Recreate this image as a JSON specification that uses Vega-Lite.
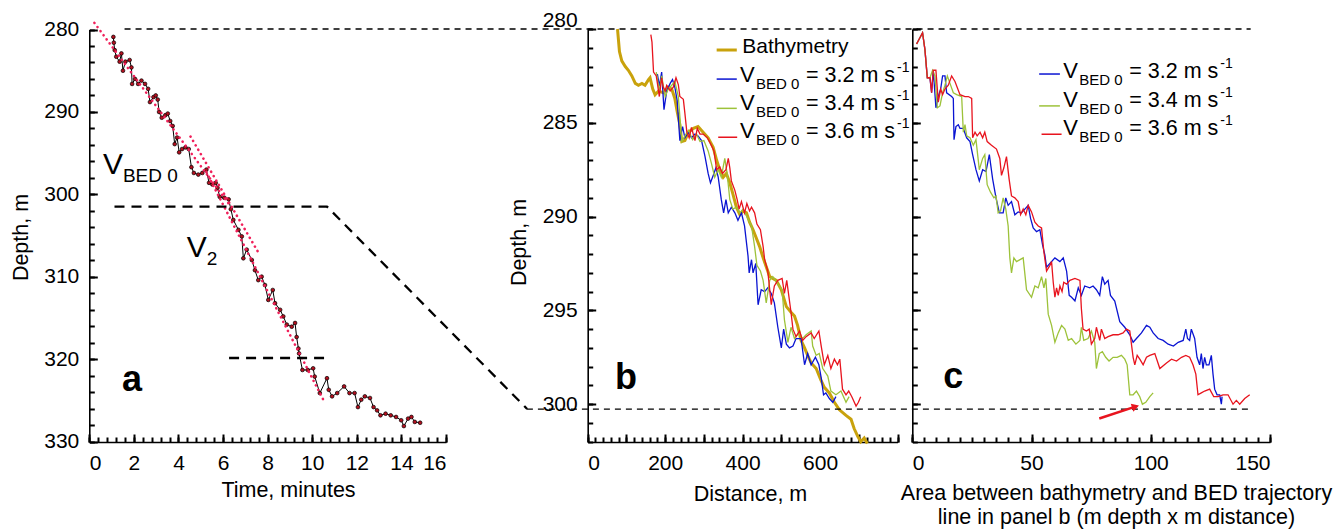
{
"$schema":"https://vega.github.io/schema/vega-lite/v6.json",
"width":1342,"height":442,
"autosize":{"type":"none"},
"padding":{"left":0,"top":0,"right":0,"bottom":87},
"config":{"font":"Liberation Sans","view":{"stroke":null},
 "axis":{"labelFont":"Liberation Sans","titleFont":"Liberation Sans","labelFontSize":21,"titleFontSize":21.5,"titleFontWeight":"normal","labelColor":"black","titleColor":"black","domainColor":"black","tickColor":"black","grid":false,"domainWidth":1.6,"tickWidth":2,"ticks":true,"tickOpacity":1,"zindex":1}},
"resolve":{"scale":{"x":"independent","y":"independent"},"axis":{"x":"independent","y":"independent"}},
"layer":[
{"data":{"values":[
{"t":1.08,"depth":280.9},{"t":1.10,"depth":281.6},{"t":1.14,"depth":282.5},{"t":1.21,"depth":283.3},{"t":1.36,"depth":283.9},{"t":1.44,"depth":282.9},{"t":1.51,"depth":285.0},{"t":1.62,"depth":283.9},{"t":1.81,"depth":283.7},{"t":1.89,"depth":284.6},{"t":1.92,"depth":286.6},{"t":2.05,"depth":286.0},{"t":2.19,"depth":286.6},{"t":2.34,"depth":286.2},{"t":2.50,"depth":286.6},{"t":2.64,"depth":287.2},{"t":2.72,"depth":288.8},{"t":2.88,"depth":288.2},{"t":2.98,"depth":288.0},{"t":3.07,"depth":288.5},{"t":3.13,"depth":290.0},{"t":3.25,"depth":290.7},{"t":3.41,"depth":290.4},{"t":3.52,"depth":290.2},{"t":3.63,"depth":291.1},{"t":3.74,"depth":291.7},{"t":3.83,"depth":293.9},{"t":3.94,"depth":293.1},{"t":4.03,"depth":294.9},{"t":4.16,"depth":294.5},{"t":4.31,"depth":294.3},{"t":4.46,"depth":294.5},{"t":4.58,"depth":296.7},{"t":4.69,"depth":297.4},{"t":4.89,"depth":297.6},{"t":5.07,"depth":297.4},{"t":5.25,"depth":297.0},{"t":5.37,"depth":298.6},{"t":5.52,"depth":298.8},{"t":5.67,"depth":298.6},{"t":5.75,"depth":299.2},{"t":5.85,"depth":300.3},{"t":6.05,"depth":300.4},{"t":6.25,"depth":300.6},{"t":6.35,"depth":301.8},{"t":6.46,"depth":303.1},{"t":6.69,"depth":304.3},{"t":6.84,"depth":305.1},{"t":6.91,"depth":307.75},{"t":7.06,"depth":306.7},{"t":7.29,"depth":307.96},{"t":7.43,"depth":309.2},{"t":7.58,"depth":310.4},{"t":7.73,"depth":309.98},{"t":7.88,"depth":311.0},{"t":8.03,"depth":312.8},{"t":8.23,"depth":311.6},{"t":8.33,"depth":313.2},{"t":8.56,"depth":314.0},{"t":8.70,"depth":314.8},{"t":8.86,"depth":315.8},{"t":9.08,"depth":316.05},{"t":9.23,"depth":315.6},{"t":9.30,"depth":317.3},{"t":9.38,"depth":318.7},{"t":9.41,"depth":319.3},{"t":9.56,"depth":321.3},{"t":9.80,"depth":321.3},{"t":10.04,"depth":321.1},{"t":10.11,"depth":322.1},{"t":10.34,"depth":324.1},{"t":10.66,"depth":322.3},{"t":10.74,"depth":323.7},{"t":10.89,"depth":324.5},{"t":11.12,"depth":324.1},{"t":11.43,"depth":323.3},{"t":11.67,"depth":324.1},{"t":11.90,"depth":324.1},{"t":12.05,"depth":325.8},{"t":12.20,"depth":324.9},{"t":12.36,"depth":324.5},{"t":12.59,"depth":324.7},{"t":12.75,"depth":325.8},{"t":12.91,"depth":326.2},{"t":13.06,"depth":326.8},{"t":13.29,"depth":326.6},{"t":13.52,"depth":326.8},{"t":13.76,"depth":327.0},{"t":13.99,"depth":327.4},{"t":14.11,"depth":328.1},{"t":14.30,"depth":327.2},{"t":14.45,"depth":327.0},{"t":14.60,"depth":327.6},{"t":14.84,"depth":327.7}]},
 "mark":{"type":"line","color":"black","strokeWidth":1,"point":{"filled":true,"fill":"#b3101f","stroke":"black","strokeWidth":0.7,"size":14}},
 "encoding":{
  "x":{"field":"t","type":"quantitative","scale":{"domain":[0,16],"range":[89.3,446],"nice":false,"zero":false},
   "axis":{"orient":"bottom","values":[0,2,4,6,8,10,12,14,16],"ticks":true,"tickSize":-8,"tickWidth":2,"tickColor":"black","labelPadding":18.5,"title":"Time, minutes","titleX":288,"titleY":54,"titleBaseline":"alphabetic"}},
  "y":{"field":"depth","type":"quantitative","scale":{"domain":[280,330],"range":[29.5,441.7],"nice":false,"zero":false},
   "axis":{"orient":"left","offset":-89.3,"values":[280,290,300,310,320,330],"ticks":true,"tickSize":-8,"tickWidth":2,"tickColor":"black","labelPadding":18.5,"title":"Depth, m","titleX":-61.5,"titleY":237,"titleAngle":-90,"titleBaseline":"alphabetic"}}}},
{"data":{"values":[{"fit":"A","t":0.23,"depth":279.2},{"fit":"A","t":6.3,"depth":301.3},{"fit":"B","t":4.54,"depth":292.98},{"fit":"B","t":7.65,"depth":307.35},{"fit":"C","t":5.25,"depth":297.3},{"fit":"C","t":10.58,"depth":325.35}]},
 "mark":{"type":"line","color":"#f0205a","strokeWidth":2.6,"strokeDash":[0.1,5],"strokeCap":"round"},
 "encoding":{"detail":{"field":"fit"},
  "x":{"field":"t","type":"quantitative","scale":{"domain":[0,16],"range":[89.3,446],"nice":false,"zero":false},
   "axis":{"orient":"bottom","offset":-5,"values":[0,0.4,0.8,1.2,1.6,2,2.4,2.8,3.2,3.6,4,4.4,4.8,5.2,5.6,6,6.4,6.8,7.2,7.6,8,8.4,8.8,9.2,9.6,10,10.4,10.8,11.2,11.6,12,12.4,12.8,13.2,13.6,14,14.4,14.8,15.2,15.6,16],"labels":false,"domain":false,"ticks":true,"tickSize":5,"tickWidth":2,"tickColor":"black","title":null}},
  "y":{"field":"depth","type":"quantitative","scale":{"domain":[280,330],"range":[29.5,441.7],"nice":false,"zero":false},
   "axis":{"orient":"left","offset":-94.3,"values":[280,282,284,286,288,290,292,294,296,298,300,302,304,306,308,310,312,314,316,318,320,322,324,326,328,330],"labels":false,"domain":false,"ticks":true,"tickSize":5,"tickWidth":2,"tickColor":"black","title":null}}}},
{"data":{"values":[{"seg":"mid","t":1.13,"depth":301.48},{"seg":"mid","t":10.66,"depth":301.48},{"seg":"mid","t":19.64,"depth":326.03},{"seg":"low","t":6.27,"depth":319.85},{"seg":"low","t":10.53,"depth":319.85}]},
 "mark":{"type":"line","color":"black","strokeWidth":2.3,"strokeDash":[10,7]},
 "encoding":{"detail":{"field":"seg"},
  "x":{"field":"t","type":"quantitative","scale":{"domain":[0,16],"range":[89.3,446],"nice":false,"zero":false},"axis":null},
  "y":{"field":"depth","type":"quantitative","scale":{"domain":[280,330],"range":[29.5,441.7],"nice":false,"zero":false},"axis":null}}},
{"data":{"values":[{"label":"V","t":0.61,"depth":297.48},{"label":"V","t":4.37,"depth":307.63}]},
 "mark":{"type":"text","align":"left","baseline":"alphabetic","fontSize":30,"color":"black"},
 "encoding":{"text":{"field":"label"},
  "x":{"field":"t","type":"quantitative","scale":{"domain":[0,16],"range":[89.3,446],"nice":false,"zero":false},"axis":null},
  "y":{"field":"depth","type":"quantitative","scale":{"domain":[280,330],"range":[29.5,441.7],"nice":false,"zero":false},"axis":null}}},
{"data":{"values":[{"label":"BED 0","t":0.61,"depth":297.48},{"label":"2","t":4.37,"depth":307.63}]},
 "mark":{"type":"text","align":"left","baseline":"alphabetic","fontSize":19,"dx":20,"dy":8,"color":"black"},
 "encoding":{"text":{"field":"label"},
  "x":{"field":"t","type":"quantitative","scale":{"domain":[0,16],"range":[89.3,446],"nice":false,"zero":false},"axis":null},
  "y":{"field":"depth","type":"quantitative","scale":{"domain":[280,330],"range":[29.5,441.7],"nice":false,"zero":false},"axis":null}}},
{"data":{"values":[{"label":"a","t":1.47,"depth":323.9}]},
 "mark":{"type":"text","align":"left","baseline":"alphabetic","fontSize":36,"fontWeight":"bold","color":"black"},
 "encoding":{"text":{"field":"label"},
  "x":{"field":"t","type":"quantitative","scale":{"domain":[0,16],"range":[89.3,446],"nice":false,"zero":false},"axis":null},
  "y":{"field":"depth","type":"quantitative","scale":{"domain":[280,330],"range":[29.5,441.7],"nice":false,"zero":false},"axis":null}}},
{"data":{"values":[
{"dist":77,"depth":280.0},{"dist":82,"depth":281.2},{"dist":88,"depth":281.7},{"dist":97,"depth":282.0},{"dist":105,"depth":282.2},{"dist":114,"depth":282.5},{"dist":123,"depth":282.9},{"dist":131,"depth":283.0},{"dist":140,"depth":282.9},{"dist":148,"depth":283.0},{"dist":157,"depth":282.7},{"dist":161,"depth":282.6},{"dist":168,"depth":283.2},{"dist":174,"depth":283.5},{"dist":183,"depth":283.3},{"dist":195,"depth":283.4},{"dist":208,"depth":283.1},{"dist":217,"depth":283.2},{"dist":225,"depth":283.7},{"dist":231,"depth":284.4},{"dist":238,"depth":285.1},{"dist":243,"depth":286.0},{"dist":251,"depth":285.95},{"dist":260,"depth":285.5},{"dist":273,"depth":285.3},{"dist":285,"depth":285.2},{"dist":298,"depth":285.5},{"dist":311,"depth":285.8},{"dist":324,"depth":286.3},{"dist":333,"depth":287.0},{"dist":341,"depth":287.5},{"dist":350,"depth":287.9},{"dist":358,"depth":287.7},{"dist":367,"depth":288.2},{"dist":375,"depth":288.8},{"dist":384,"depth":289.5},{"dist":393,"depth":289.9},{"dist":401,"depth":289.7},{"dist":410,"depth":289.8},{"dist":418,"depth":290.3},{"dist":427,"depth":290.7},{"dist":444,"depth":291.6},{"dist":453,"depth":292.2},{"dist":470,"depth":293.2},{"dist":487,"depth":293.4},{"dist":500,"depth":293.9},{"dist":513,"depth":294.8},{"dist":525,"depth":295.1},{"dist":534,"depth":295.3},{"dist":542,"depth":295.8},{"dist":551,"depth":296.6},{"dist":560,"depth":297.0},{"dist":568,"depth":297.4},{"dist":577,"depth":297.8},{"dist":590,"depth":298.1},{"dist":602,"depth":298.7},{"dist":611,"depth":299.1},{"dist":624,"depth":299.4},{"dist":637,"depth":299.9},{"dist":650,"depth":300.3},{"dist":667,"depth":300.6},{"dist":680,"depth":300.8},{"dist":688,"depth":301.3},{"dist":697,"depth":301.7},{"dist":705,"depth":302.0},{"dist":714,"depth":301.8},{"dist":722,"depth":302.1}]},
 "mark":{"type":"line","color":"#c9a20c","strokeWidth":3},
 "encoding":{
  "x":{"field":"dist","type":"quantitative","scale":{"domain":[0,800],"range":[587.7,897.5],"nice":false,"zero":false},
   "axis":{"orient":"bottom","values":[0,100,200,300,400,500,600,700,800],"labelExpr":"datum.value % 200 == 0 && datum.value < 800 ? datum.label : ''","ticks":true,"tickSize":-8,"tickWidth":2,"tickColor":"black","labelPadding":18.5,"title":"Distance, m","titleX":750,"titleY":58.5,"titleBaseline":"alphabetic"}},
  "y":{"field":"depth","type":"quantitative","scale":{"domain":[280,302],"range":[29,441.7],"nice":false,"zero":false},
   "axis":{"orient":"left","offset":-587.7,"values":[280,285,290,295,300],"ticks":true,"tickSize":-8,"tickWidth":2,"tickColor":"black","labelPadding":18.5,"labelFlush":true,"labelFlushOffset":20,"title":"Depth, m","titleX":-62,"titleY":242,"titleAngle":-90,"titleBaseline":"alphabetic"}}}},
{"data":{"values":[
{"series":"3.2","dist":180,"depth":282.4},{"series":"3.2","dist":185,"depth":283.05},{"series":"3.2","dist":191,"depth":282.3},{"series":"3.2","dist":197,"depth":284.3},{"series":"3.2","dist":204,"depth":283.3},{"series":"3.2","dist":213,"depth":282.9},{"series":"3.2","dist":219,"depth":282.7},{"series":"3.2","dist":225,"depth":283.1},{"series":"3.2","dist":231,"depth":283.8},{"series":"3.2","dist":238,"depth":285.95},{"series":"3.2","dist":245,"depth":285.2},{"series":"3.2","dist":251,"depth":285.8},{"series":"3.2","dist":260,"depth":285.5},{"series":"3.2","dist":268,"depth":285.8},{"series":"3.2","dist":277,"depth":285.6},{"series":"3.2","dist":285,"depth":285.7},{"series":"3.2","dist":294,"depth":285.95},{"series":"3.2","dist":303,"depth":286.8},{"series":"3.2","dist":311,"depth":287.7},{"series":"3.2","dist":317,"depth":288.2},{"series":"3.2","dist":326,"depth":287.7},{"series":"3.2","dist":331,"depth":287.4},{"series":"3.2","dist":337,"depth":287.9},{"series":"3.2","dist":345,"depth":289.1},{"series":"3.2","dist":351,"depth":289.8},{"series":"3.2","dist":357,"depth":289.1},{"series":"3.2","dist":363,"depth":289.8},{"series":"3.2","dist":371,"depth":289.5},{"series":"3.2","dist":380,"depth":289.8},{"series":"3.2","dist":388,"depth":290.2},{"series":"3.2","dist":397,"depth":289.8},{"series":"3.2","dist":405,"depth":290.5},{"series":"3.2","dist":414,"depth":292.1},{"series":"3.2","dist":417,"depth":293.0},{"series":"3.2","dist":423,"depth":292.3},{"series":"3.2","dist":427,"depth":293.0},{"series":"3.2","dist":434,"depth":292.5},{"series":"3.2","dist":440,"depth":294.7},{"series":"3.2","dist":448,"depth":293.9},{"series":"3.2","dist":457,"depth":294.0},{"series":"3.2","dist":465,"depth":293.8},{"series":"3.2","dist":474,"depth":294.1},{"series":"3.2","dist":482,"depth":294.6},{"series":"3.2","dist":491,"depth":295.9},{"series":"3.2","dist":500,"depth":297.0},{"series":"3.2","dist":506,"depth":296.0},{"series":"3.2","dist":513,"depth":296.8},{"series":"3.2","dist":521,"depth":297.0},{"series":"3.2","dist":530,"depth":296.9},{"series":"3.2","dist":538,"depth":296.5},{"series":"3.2","dist":551,"depth":296.5},{"series":"3.2","dist":560,"depth":297.9},{"series":"3.2","dist":568,"depth":297.3},{"series":"3.2","dist":577,"depth":297.9},{"series":"3.2","dist":588,"depth":297.5},{"series":"3.2","dist":597,"depth":297.9},{"series":"3.2","dist":603,"depth":298.6},{"series":"3.2","dist":609,"depth":299.5},{"series":"3.2","dist":615,"depth":299.4},{"series":"3.2","dist":624,"depth":299.7},{"series":"3.2","dist":633,"depth":299.9},{"series":"3.2","dist":641,"depth":299.6},
{"series":"3.4","dist":177,"depth":282.3},{"series":"3.4","dist":185,"depth":283.3},{"series":"3.4","dist":191,"depth":282.5},{"series":"3.4","dist":200,"depth":283.6},{"series":"3.4","dist":208,"depth":283.2},{"series":"3.4","dist":217,"depth":283.0},{"series":"3.4","dist":225,"depth":282.8},{"series":"3.4","dist":234,"depth":283.6},{"series":"3.4","dist":243,"depth":286.0},{"series":"3.4","dist":251,"depth":285.7},{"series":"3.4","dist":260,"depth":285.4},{"series":"3.4","dist":271,"depth":285.9},{"series":"3.4","dist":281,"depth":285.6},{"series":"3.4","dist":290,"depth":286.0},{"series":"3.4","dist":300,"depth":285.95},{"series":"3.4","dist":311,"depth":286.5},{"series":"3.4","dist":320,"depth":287.2},{"series":"3.4","dist":328,"depth":287.9},{"series":"3.4","dist":337,"depth":287.5},{"series":"3.4","dist":345,"depth":287.9},{"series":"3.4","dist":354,"depth":286.9},{"series":"3.4","dist":360,"depth":287.7},{"series":"3.4","dist":367,"depth":289.1},{"series":"3.4","dist":375,"depth":289.6},{"series":"3.4","dist":384,"depth":289.5},{"series":"3.4","dist":393,"depth":289.8},{"series":"3.4","dist":401,"depth":289.6},{"series":"3.4","dist":411,"depth":290.0},{"series":"3.4","dist":423,"depth":290.5},{"series":"3.4","dist":431,"depth":291.6},{"series":"3.4","dist":437,"depth":292.6},{"series":"3.4","dist":446,"depth":292.9},{"series":"3.4","dist":453,"depth":293.4},{"series":"3.4","dist":461,"depth":294.6},{"series":"3.4","dist":470,"depth":293.4},{"series":"3.4","dist":478,"depth":293.2},{"series":"3.4","dist":491,"depth":293.6},{"series":"3.4","dist":502,"depth":293.9},{"series":"3.4","dist":508,"depth":295.5},{"series":"3.4","dist":517,"depth":296.7},{"series":"3.4","dist":525,"depth":295.9},{"series":"3.4","dist":534,"depth":296.5},{"series":"3.4","dist":545,"depth":296.2},{"series":"3.4","dist":555,"depth":296.5},{"series":"3.4","dist":564,"depth":296.3},{"series":"3.4","dist":577,"depth":296.1},{"series":"3.4","dist":581,"depth":296.9},{"series":"3.4","dist":590,"depth":297.4},{"series":"3.4","dist":598,"depth":297.3},{"series":"3.4","dist":607,"depth":298.1},{"series":"3.4","dist":620,"depth":298.5},{"series":"3.4","dist":628,"depth":299.3},{"series":"3.4","dist":641,"depth":299.5},{"series":"3.4","dist":654,"depth":299.3},{"series":"3.4","dist":667,"depth":299.9},{"series":"3.4","dist":675,"depth":299.6},
{"series":"3.6","dist":163,"depth":280.3},{"series":"3.6","dist":166,"depth":280.7},{"series":"3.6","dist":170,"depth":282.3},{"series":"3.6","dist":177,"depth":282.5},{"series":"3.6","dist":180,"depth":282.9},{"series":"3.6","dist":185,"depth":283.6},{"series":"3.6","dist":191,"depth":282.6},{"series":"3.6","dist":195,"depth":283.1},{"series":"3.6","dist":200,"depth":283.3},{"series":"3.6","dist":204,"depth":283.0},{"series":"3.6","dist":213,"depth":283.3},{"series":"3.6","dist":221,"depth":283.1},{"series":"3.6","dist":228,"depth":282.6},{"series":"3.6","dist":234,"depth":282.96},{"series":"3.6","dist":238,"depth":283.6},{"series":"3.6","dist":247,"depth":283.75},{"series":"3.6","dist":251,"depth":284.5},{"series":"3.6","dist":256,"depth":285.5},{"series":"3.6","dist":262,"depth":285.8},{"series":"3.6","dist":268,"depth":285.25},{"series":"3.6","dist":277,"depth":285.95},{"series":"3.6","dist":283,"depth":285.3},{"series":"3.6","dist":290,"depth":285.6},{"series":"3.6","dist":298,"depth":285.6},{"series":"3.6","dist":309,"depth":285.8},{"series":"3.6","dist":317,"depth":286.1},{"series":"3.6","dist":326,"depth":286.5},{"series":"3.6","dist":333,"depth":287.5},{"series":"3.6","dist":341,"depth":287.35},{"series":"3.6","dist":348,"depth":287.7},{"series":"3.6","dist":357,"depth":287.5},{"series":"3.6","dist":363,"depth":286.9},{"series":"3.6","dist":367,"depth":287.4},{"series":"3.6","dist":371,"depth":288.1},{"series":"3.6","dist":380,"depth":288.6},{"series":"3.6","dist":386,"depth":289.1},{"series":"3.6","dist":391,"depth":289.6},{"series":"3.6","dist":397,"depth":289.2},{"series":"3.6","dist":405,"depth":289.8},{"series":"3.6","dist":411,"depth":289.3},{"series":"3.6","dist":418,"depth":289.7},{"series":"3.6","dist":423,"depth":289.5},{"series":"3.6","dist":431,"depth":289.8},{"series":"3.6","dist":437,"depth":290.4},{"series":"3.6","dist":446,"depth":290.7},{"series":"3.6","dist":453,"depth":291.6},{"series":"3.6","dist":457,"depth":292.3},{"series":"3.6","dist":465,"depth":292.9},{"series":"3.6","dist":474,"depth":294.7},{"series":"3.6","dist":482,"depth":293.7},{"series":"3.6","dist":491,"depth":293.4},{"series":"3.6","dist":502,"depth":293.3},{"series":"3.6","dist":508,"depth":294.1},{"series":"3.6","dist":514,"depth":293.4},{"series":"3.6","dist":525,"depth":295.1},{"series":"3.6","dist":530,"depth":296.0},{"series":"3.6","dist":538,"depth":296.4},{"series":"3.6","dist":547,"depth":296.1},{"series":"3.6","dist":555,"depth":296.6},{"series":"3.6","dist":564,"depth":296.4},{"series":"3.6","dist":577,"depth":296.2},{"series":"3.6","dist":585,"depth":296.5},{"series":"3.6","dist":597,"depth":296.1},{"series":"3.6","dist":603,"depth":296.9},{"series":"3.6","dist":611,"depth":297.9},{"series":"3.6","dist":620,"depth":297.4},{"series":"3.6","dist":628,"depth":298.1},{"series":"3.6","dist":637,"depth":297.6},{"series":"3.6","dist":645,"depth":297.9},{"series":"3.6","dist":651,"depth":297.6},{"series":"3.6","dist":658,"depth":299.2},{"series":"3.6","dist":667,"depth":299.5},{"series":"3.6","dist":674,"depth":299.3},{"series":"3.6","dist":682,"depth":299.6},{"series":"3.6","dist":693,"depth":300.1},{"series":"3.6","dist":699,"depth":299.9},{"series":"3.6","dist":705,"depth":299.6}]},
 "mark":{"type":"line","strokeWidth":1.3},
 "encoding":{
  "color":{"field":"series","type":"nominal","scale":{"domain":["3.2","3.4","3.6"],"range":["#0a14d2","#9dc23a","#e8141e"]},"legend":null},
  "x":{"field":"dist","type":"quantitative","scale":{"domain":[0,800],"range":[587.7,897.5],"nice":false,"zero":false},
   "axis":{"orient":"bottom","offset":-5,"values":[0,20,40,60,80,100,120,140,160,180,200,220,240,260,280,300,320,340,360,380,400,420,440,460,480,500,520,540,560,580,600,620,640,660,680,700,720,740,760,780,800],"labels":false,"domain":false,"ticks":true,"tickSize":5,"tickWidth":2,"tickColor":"black","title":null}},
  "y":{"field":"depth","type":"quantitative","scale":{"domain":[280,302],"range":[29,441.7],"nice":false,"zero":false},
   "axis":{"orient":"left","offset":-592.7,"values":[280,281,282,283,284,285,286,287,288,289,290,291,292,293,294,295,296,297,298,299,300,301,302],"labels":false,"domain":false,"ticks":true,"tickSize":5,"tickWidth":2,"tickColor":"black","title":null}}}},
{"data":{"values":[{"series":"3.2","from":333,"to":385,"depth":282.67},{"series":"3.4","from":333,"to":385,"depth":284.23},{"series":"3.6","from":337,"to":386,"depth":285.77}]},
 "mark":{"type":"rule","strokeWidth":1.5},
 "encoding":{
  "color":{"field":"series","type":"nominal","scale":{"domain":["3.2","3.4","3.6"],"range":["#0a14d2","#9dc23a","#e8141e"]},"legend":null},
  "x":{"field":"from","type":"quantitative","scale":{"domain":[0,800],"range":[587.7,897.5],"nice":false,"zero":false},"axis":null},
  "x2":{"field":"to"},
  "y":{"field":"depth","type":"quantitative","scale":{"domain":[280,302],"range":[29,441.7],"nice":false,"zero":false},"axis":null}}},
{"data":{"values":[{"from":333,"to":385,"depth":281.12}]},
 "mark":{"type":"rule","strokeWidth":3,"color":"#c9a20c"},
 "encoding":{
  "x":{"field":"from","type":"quantitative","scale":{"domain":[0,800],"range":[587.7,897.5],"nice":false,"zero":false},"axis":null},
  "x2":{"field":"to"},
  "y":{"field":"depth","type":"quantitative","scale":{"domain":[280,302],"range":[29,441.7],"nice":false,"zero":false},"axis":null}}},
{"data":{"values":[{"label":"Bathymetry","dist":399.3,"depth":281.3}]},
 "mark":{"type":"text","align":"left","baseline":"alphabetic","fontSize":21,"color":"black"},
 "encoding":{"text":{"field":"label"},
  "x":{"field":"dist","type":"quantitative","scale":{"domain":[0,800],"range":[587.7,897.5],"nice":false,"zero":false},"axis":null},
  "y":{"field":"depth","type":"quantitative","scale":{"domain":[280,302],"range":[29,441.7],"nice":false,"zero":false},"axis":null}}},
{"data":{"values":[{"label":"V","dist":393.3,"depth":282.81},{"label":"V","dist":393.3,"depth":284.32},{"label":"V","dist":393.3,"depth":285.83}]},
 "mark":{"type":"text","align":"left","baseline":"alphabetic","fontSize":22,"color":"black"},
 "encoding":{"text":{"field":"label"},
  "x":{"field":"dist","type":"quantitative","scale":{"domain":[0,800],"range":[587.7,897.5],"nice":false,"zero":false},"axis":null},
  "y":{"field":"depth","type":"quantitative","scale":{"domain":[280,302],"range":[29,441.7],"nice":false,"zero":false},"axis":null}}},
{"data":{"values":[{"label":"BED 0","dist":393.3,"depth":282.81},{"label":"BED 0","dist":393.3,"depth":284.32},{"label":"BED 0","dist":393.3,"depth":285.83}]},
 "mark":{"type":"text","align":"left","baseline":"alphabetic","fontSize":15,"dx":16,"dy":7,"color":"black"},
 "encoding":{"text":{"field":"label"},
  "x":{"field":"dist","type":"quantitative","scale":{"domain":[0,800],"range":[587.7,897.5],"nice":false,"zero":false},"axis":null},
  "y":{"field":"depth","type":"quantitative","scale":{"domain":[280,302],"range":[29,441.7],"nice":false,"zero":false},"axis":null}}},
{"data":{"values":[{"label":"= 3.2 m s","dist":393.3,"depth":282.81},{"label":"= 3.4 m s","dist":393.3,"depth":284.32},{"label":"= 3.6 m s","dist":393.3,"depth":285.83}]},
 "mark":{"type":"text","align":"left","baseline":"alphabetic","fontSize":21.5,"dx":66,"color":"black"},
 "encoding":{"text":{"field":"label"},
  "x":{"field":"dist","type":"quantitative","scale":{"domain":[0,800],"range":[587.7,897.5],"nice":false,"zero":false},"axis":null},
  "y":{"field":"depth","type":"quantitative","scale":{"domain":[280,302],"range":[29,441.7],"nice":false,"zero":false},"axis":null}}},
{"data":{"values":[{"label":"-1","dist":393.3,"depth":282.81},{"label":"-1","dist":393.3,"depth":284.32},{"label":"-1","dist":393.3,"depth":285.83}]},
 "mark":{"type":"text","align":"left","baseline":"alphabetic","fontSize":14,"dx":157,"dy":-10,"color":"black"},
 "encoding":{"text":{"field":"label"},
  "x":{"field":"dist","type":"quantitative","scale":{"domain":[0,800],"range":[587.7,897.5],"nice":false,"zero":false},"axis":null},
  "y":{"field":"depth","type":"quantitative","scale":{"domain":[280,302],"range":[29,441.7],"nice":false,"zero":false},"axis":null}}},
{"data":{"values":[{"seg":"top","dist":-1196,"depth":280},{"seg":"top","dist":1712,"depth":280},{"seg":"bottom","dist":-157,"depth":300.26},{"seg":"bottom","dist":1712,"depth":300.26}]},
 "mark":{"type":"line","color":"black","strokeWidth":1.3,"strokeDash":[6,5]},
 "encoding":{"detail":{"field":"seg"},
  "x":{"field":"dist","type":"quantitative","scale":{"domain":[0,800],"range":[587.7,897.5],"nice":false,"zero":false},"axis":null},
  "y":{"field":"depth","type":"quantitative","scale":{"domain":[280,302],"range":[29,441.7],"nice":false,"zero":false},"axis":null}}},
{"data":{"values":[{"label":"b","dist":70.5,"depth":299.2}]},
 "mark":{"type":"text","align":"left","baseline":"alphabetic","fontSize":36,"fontWeight":"bold","color":"black"},
 "encoding":{"text":{"field":"label"},
  "x":{"field":"dist","type":"quantitative","scale":{"domain":[0,800],"range":[587.7,897.5],"nice":false,"zero":false},"axis":null},
  "y":{"field":"depth","type":"quantitative","scale":{"domain":[280,302],"range":[29,441.7],"nice":false,"zero":false},"axis":null}}},
{"data":{"values":[
{"series":"3.2","area":1.8,"depth":280.8},{"series":"3.2","area":4.3,"depth":280.2},{"series":"3.2","area":5.3,"depth":281.1},{"series":"3.2","area":6.3,"depth":282.6},{"series":"3.2","area":7.4,"depth":282.6},{"series":"3.2","area":8.1,"depth":283.4},{"series":"3.2","area":8.8,"depth":282.2},{"series":"3.2","area":9.9,"depth":284.2},{"series":"3.2","area":10.9,"depth":283.6},{"series":"3.2","area":11.9,"depth":283.2},{"series":"3.2","area":12.7,"depth":282.5},{"series":"3.2","area":13.7,"depth":282.5},{"series":"3.2","area":14.4,"depth":283.4},{"series":"3.2","area":16.5,"depth":283.6},{"series":"3.2","area":17.2,"depth":283.7},{"series":"3.2","area":17.5,"depth":285.9},{"series":"3.2","area":18.3,"depth":285.2},{"series":"3.2","area":19.3,"depth":285.1},{"series":"3.2","area":20.0,"depth":285.3},{"series":"3.2","area":21.4,"depth":285.3},{"series":"3.2","area":22.8,"depth":285.8},{"series":"3.2","area":24.2,"depth":286.0},{"series":"3.2","area":25.3,"depth":286.7},{"series":"3.2","area":26.7,"depth":287.5},{"series":"3.2","area":28.1,"depth":288.1},{"series":"3.2","area":29.5,"depth":287.5},{"series":"3.2","area":30.9,"depth":287.6},{"series":"3.2","area":32.3,"depth":286.7},{"series":"3.2","area":33.7,"depth":288.0},{"series":"3.2","area":35.1,"depth":289.0},{"series":"3.2","area":36.5,"depth":289.8},{"series":"3.2","area":38.1,"depth":289.8},{"series":"3.2","area":39.2,"depth":289.0},{"series":"3.2","area":40.2,"depth":289.4},{"series":"3.2","area":41.6,"depth":289.2},{"series":"3.2","area":43.0,"depth":289.9},{"series":"3.2","area":44.4,"depth":289.75},{"series":"3.2","area":45.8,"depth":289.8},{"series":"3.2","area":47.2,"depth":289.6},{"series":"3.2","area":48.6,"depth":289.4},{"series":"3.2","area":49.6,"depth":290.1},{"series":"3.2","area":50.7,"depth":290.6},{"series":"3.2","area":52.1,"depth":290.8},{"series":"3.2","area":53.5,"depth":290.7},{"series":"3.2","area":54.6,"depth":291.5},{"series":"3.2","area":55.6,"depth":292.05},{"series":"3.2","area":56.3,"depth":292.7},{"series":"3.2","area":59.8,"depth":292.2},{"series":"3.2","area":61.9,"depth":292.4},{"series":"3.2","area":63.3,"depth":292.2},{"series":"3.2","area":64.7,"depth":292.9},{"series":"3.2","area":65.8,"depth":294.2},{"series":"3.2","area":66.8,"depth":294.3},{"series":"3.2","area":68.2,"depth":294.5},{"series":"3.2","area":69.6,"depth":293.8},{"series":"3.2","area":70.9,"depth":294.2},{"series":"3.2","area":72.3,"depth":293.7},{"series":"3.2","area":74.4,"depth":293.8},{"series":"3.2","area":75.8,"depth":293.7},{"series":"3.2","area":77.2,"depth":293.9},{"series":"3.2","area":78.6,"depth":294.2},{"series":"3.2","area":79.7,"depth":293.2},{"series":"3.2","area":80.7,"depth":293.6},{"series":"3.2","area":82.1,"depth":293.4},{"series":"3.2","area":83.1,"depth":294.2},{"series":"3.2","area":84.9,"depth":294.5},{"series":"3.2","area":87.0,"depth":295.6},{"series":"3.2","area":89.1,"depth":295.9},{"series":"3.2","area":91.2,"depth":296.3},{"series":"3.2","area":92.6,"depth":296.7},{"series":"3.2","area":94.0,"depth":296.5},{"series":"3.2","area":96.1,"depth":296.2},{"series":"3.2","area":98.2,"depth":295.8},{"series":"3.2","area":99.6,"depth":295.9},{"series":"3.2","area":101.0,"depth":296.2},{"series":"3.2","area":103.1,"depth":296.5},{"series":"3.2","area":105.2,"depth":296.6},{"series":"3.2","area":107.3,"depth":296.8},{"series":"3.2","area":109.5,"depth":296.9},{"series":"3.2","area":111.5,"depth":296.7},{"series":"3.2","area":113.6,"depth":296.6},{"series":"3.2","area":114.7,"depth":296.0},{"series":"3.2","area":115.4,"depth":296.5},{"series":"3.2","area":116.3,"depth":296.6},{"series":"3.2","area":117.0,"depth":296.0},{"series":"3.2","area":118.4,"depth":296.5},{"series":"3.2","area":119.4,"depth":297.5},{"series":"3.2","area":120.5,"depth":297.9},{"series":"3.2","area":121.2,"depth":297.3},{"series":"3.2","area":121.9,"depth":298.1},{"series":"3.2","area":122.6,"depth":297.5},{"series":"3.2","area":123.3,"depth":297.9},{"series":"3.2","area":124.4,"depth":297.9},{"series":"3.2","area":125.4,"depth":297.4},{"series":"3.2","area":126.1,"depth":298.4},{"series":"3.2","area":126.8,"depth":299.2},{"series":"3.2","area":127.8,"depth":299.5},{"series":"3.2","area":128.9,"depth":299.5},{"series":"3.2","area":129.6,"depth":300.0},{"series":"3.2","area":129.9,"depth":299.6},
{"series":"3.4","area":1.8,"depth":280.8},{"series":"3.4","area":4.3,"depth":280.2},{"series":"3.4","area":5.3,"depth":281.1},{"series":"3.4","area":6.3,"depth":282.6},{"series":"3.4","area":7.4,"depth":282.6},{"series":"3.4","area":8.5,"depth":282.2},{"series":"3.4","area":9.5,"depth":282.5},{"series":"3.4","area":10.5,"depth":284.2},{"series":"3.4","area":11.6,"depth":284.1},{"series":"3.4","area":12.7,"depth":283.4},{"series":"3.4","area":13.7,"depth":283.0},{"series":"3.4","area":14.7,"depth":282.5},{"series":"3.4","area":15.8,"depth":282.9},{"series":"3.4","area":17.2,"depth":283.4},{"series":"3.4","area":18.6,"depth":283.5},{"series":"3.4","area":20.7,"depth":283.6},{"series":"3.4","area":21.4,"depth":285.5},{"series":"3.4","area":22.1,"depth":285.1},{"series":"3.4","area":22.8,"depth":285.7},{"series":"3.4","area":24.2,"depth":285.8},{"series":"3.4","area":25.6,"depth":286.2},{"series":"3.4","area":26.7,"depth":285.9},{"series":"3.4","area":28.1,"depth":287.5},{"series":"3.4","area":29.5,"depth":286.9},{"series":"3.4","area":30.4,"depth":286.7},{"series":"3.4","area":31.4,"depth":288.3},{"series":"3.4","area":32.8,"depth":288.7},{"series":"3.4","area":34.2,"depth":289.0},{"series":"3.4","area":35.1,"depth":288.9},{"series":"3.4","area":36.0,"depth":289.8},{"series":"3.4","area":37.0,"depth":289.7},{"series":"3.4","area":38.1,"depth":289.0},{"series":"3.4","area":39.2,"depth":289.6},{"series":"3.4","area":40.2,"depth":290.5},{"series":"3.4","area":40.9,"depth":292.2},{"series":"3.4","area":41.6,"depth":293.0},{"series":"3.4","area":42.6,"depth":292.2},{"series":"3.4","area":43.7,"depth":292.4},{"series":"3.4","area":46.5,"depth":292.2},{"series":"3.4","area":47.9,"depth":293.9},{"series":"3.4","area":50.0,"depth":294.3},{"series":"3.4","area":51.4,"depth":293.7},{"series":"3.4","area":52.8,"depth":293.8},{"series":"3.4","area":54.2,"depth":293.2},{"series":"3.4","area":55.2,"depth":293.8},{"series":"3.4","area":56.0,"depth":293.3},{"series":"3.4","area":57.0,"depth":295.2},{"series":"3.4","area":58.4,"depth":295.8},{"series":"3.4","area":59.8,"depth":296.7},{"series":"3.4","area":61.2,"depth":296.2},{"series":"3.4","area":62.6,"depth":295.8},{"series":"3.4","area":64.0,"depth":296.0},{"series":"3.4","area":65.4,"depth":296.6},{"series":"3.4","area":66.8,"depth":296.5},{"series":"3.4","area":68.6,"depth":296.8},{"series":"3.4","area":70.3,"depth":296.6},{"series":"3.4","area":70.9,"depth":295.9},{"series":"3.4","area":71.9,"depth":296.6},{"series":"3.4","area":73.7,"depth":296.5},{"series":"3.4","area":75.1,"depth":296.1},{"series":"3.4","area":76.5,"depth":296.7},{"series":"3.4","area":77.2,"depth":298.1},{"series":"3.4","area":78.4,"depth":297.3},{"series":"3.4","area":79.7,"depth":297.2},{"series":"3.4","area":81.1,"depth":297.5},{"series":"3.4","area":82.5,"depth":297.7},{"series":"3.4","area":84.2,"depth":297.5},{"series":"3.4","area":85.9,"depth":297.5},{"series":"3.4","area":87.7,"depth":297.4},{"series":"3.4","area":89.1,"depth":297.6},{"series":"3.4","area":90.1,"depth":297.9},{"series":"3.4","area":91.2,"depth":299.5},{"series":"3.4","area":92.6,"depth":299.5},{"series":"3.4","area":94.0,"depth":299.3},{"series":"3.4","area":95.4,"depth":299.6},{"series":"3.4","area":96.5,"depth":300.0},{"series":"3.4","area":97.9,"depth":299.9},{"series":"3.4","area":99.6,"depth":299.6},{"series":"3.4","area":101.0,"depth":299.4},
{"series":"3.6","area":1.8,"depth":280.8},{"series":"3.6","area":4.3,"depth":280.2},{"series":"3.6","area":5.3,"depth":281.1},{"series":"3.6","area":6.3,"depth":282.6},{"series":"3.6","area":7.4,"depth":282.6},{"series":"3.6","area":8.1,"depth":283.4},{"series":"3.6","area":8.8,"depth":282.2},{"series":"3.6","area":9.9,"depth":282.2},{"series":"3.6","area":10.9,"depth":283.9},{"series":"3.6","area":11.9,"depth":283.2},{"series":"3.6","area":12.7,"depth":283.5},{"series":"3.6","area":13.7,"depth":283.2},{"series":"3.6","area":15.1,"depth":283.0},{"series":"3.6","area":16.5,"depth":282.5},{"series":"3.6","area":17.9,"depth":282.8},{"series":"3.6","area":20.0,"depth":283.5},{"series":"3.6","area":22.1,"depth":283.6},{"series":"3.6","area":23.5,"depth":283.6},{"series":"3.6","area":24.9,"depth":283.7},{"series":"3.6","area":25.3,"depth":285.8},{"series":"3.6","area":26.3,"depth":285.5},{"series":"3.6","area":27.2,"depth":285.7},{"series":"3.6","area":28.4,"depth":285.5},{"series":"3.6","area":29.5,"depth":285.8},{"series":"3.6","area":30.4,"depth":285.5},{"series":"3.6","area":31.4,"depth":286.0},{"series":"3.6","area":33.2,"depth":286.2},{"series":"3.6","area":35.3,"depth":286.4},{"series":"3.6","area":36.7,"depth":286.9},{"series":"3.6","area":37.4,"depth":287.8},{"series":"3.6","area":38.4,"depth":287.4},{"series":"3.6","area":39.5,"depth":286.8},{"series":"3.6","area":40.6,"depth":288.0},{"series":"3.6","area":41.6,"depth":288.9},{"series":"3.6","area":43.0,"depth":289.0},{"series":"3.6","area":44.4,"depth":289.2},{"series":"3.6","area":45.4,"depth":289.9},{"series":"3.6","area":46.5,"depth":289.6},{"series":"3.6","area":47.6,"depth":289.9},{"series":"3.6","area":48.6,"depth":289.4},{"series":"3.6","area":50.0,"depth":289.75},{"series":"3.6","area":51.4,"depth":290.3},{"series":"3.6","area":52.8,"depth":290.5},{"series":"3.6","area":54.2,"depth":290.6},{"series":"3.6","area":55.2,"depth":291.9},{"series":"3.6","area":56.3,"depth":292.9},{"series":"3.6","area":57.7,"depth":292.6},{"series":"3.6","area":58.4,"depth":292.4},{"series":"3.6","area":59.1,"depth":293.5},{"series":"3.6","area":59.8,"depth":294.3},{"series":"3.6","area":60.5,"depth":293.8},{"series":"3.6","area":61.2,"depth":294.2},{"series":"3.6","area":61.9,"depth":293.7},{"series":"3.6","area":62.8,"depth":294.0},{"series":"3.6","area":63.5,"depth":293.5},{"series":"3.6","area":64.7,"depth":293.6},{"series":"3.6","area":66.1,"depth":293.4},{"series":"3.6","area":68.2,"depth":293.3},{"series":"3.6","area":70.3,"depth":293.4},{"series":"3.6","area":70.9,"depth":294.9},{"series":"3.6","area":71.6,"depth":296.0},{"series":"3.6","area":73.0,"depth":296.1},{"series":"3.6","area":74.2,"depth":296.0},{"series":"3.6","area":75.1,"depth":296.8},{"series":"3.6","area":76.5,"depth":296.5},{"series":"3.6","area":77.2,"depth":295.9},{"series":"3.6","area":78.6,"depth":296.6},{"series":"3.6","area":79.3,"depth":296.0},{"series":"3.6","area":80.7,"depth":296.5},{"series":"3.6","area":82.1,"depth":296.4},{"series":"3.6","area":84.2,"depth":296.3},{"series":"3.6","area":86.3,"depth":296.3},{"series":"3.6","area":88.4,"depth":296.2},{"series":"3.6","area":89.8,"depth":296.0},{"series":"3.6","area":91.2,"depth":296.1},{"series":"3.6","area":92.6,"depth":297.5},{"series":"3.6","area":93.3,"depth":297.9},{"series":"3.6","area":94.3,"depth":297.4},{"series":"3.6","area":95.4,"depth":297.6},{"series":"3.6","area":96.8,"depth":297.9},{"series":"3.6","area":98.2,"depth":297.5},{"series":"3.6","area":99.6,"depth":297.4},{"series":"3.6","area":101.7,"depth":297.3},{"series":"3.6","area":103.8,"depth":298.1},{"series":"3.6","area":106.6,"depth":297.8},{"series":"3.6","area":108.7,"depth":297.6},{"series":"3.6","area":110.8,"depth":297.7},{"series":"3.6","area":112.9,"depth":297.5},{"series":"3.6","area":114.7,"depth":297.4},{"series":"3.6","area":116.3,"depth":297.5},{"series":"3.6","area":117.7,"depth":297.9},{"series":"3.6","area":118.9,"depth":298.4},{"series":"3.6","area":119.8,"depth":299.5},{"series":"3.6","area":121.2,"depth":299.4},{"series":"3.6","area":122.6,"depth":299.3},{"series":"3.6","area":124.7,"depth":299.2},{"series":"3.6","area":126.4,"depth":299.6},{"series":"3.6","area":128.2,"depth":299.6},{"series":"3.6","area":130.3,"depth":299.5},{"series":"3.6","area":132.4,"depth":299.5},{"series":"3.6","area":134.5,"depth":300.0},{"series":"3.6","area":135.9,"depth":299.8},{"series":"3.6","area":137.3,"depth":300.0},{"series":"3.6","area":139.4,"depth":299.7},{"series":"3.6","area":141.5,"depth":299.5}]},
 "mark":{"type":"line","strokeWidth":1.3},
 "encoding":{
  "color":{"field":"series","type":"nominal","scale":{"domain":["3.2","3.4","3.6"],"range":["#0a14d2","#9dc23a","#e8141e"]},"legend":null},
  "x":{"field":"area","type":"quantitative","scale":{"domain":[0,150],"range":[912.3,1270],"nice":false,"zero":false},
   "axis":{"orient":"bottom","values":[0,50,100,150],"ticks":true,"tickSize":-8,"tickWidth":2,"tickColor":"black","labelPadding":18.5,"title":["Area between bathymetry and BED trajectory","line in panel b (m depth x m distance)"],"titleX":1116,"titleY":57.5,"titleBaseline":"alphabetic","titleLineHeight":24}},
  "y":{"field":"depth","type":"quantitative","scale":{"domain":[280,302],"range":[29,441.7],"nice":false,"zero":false},
   "axis":{"orient":"left","offset":-912.3,"values":[280,285,290,295,300],"labels":false,"ticks":true,"tickSize":-8,"tickWidth":2,"tickColor":"black","title":null}}}},
{"data":{"values":[{"series":"3.2","from":53.2,"to":61.9,"depth":282.4},{"series":"3.4","from":53.2,"to":61.9,"depth":284.1},{"series":"3.6","from":54.2,"to":62.6,"depth":285.61}]},
 "mark":{"type":"rule","strokeWidth":1.5},
 "encoding":{
  "color":{"field":"series","type":"nominal","scale":{"domain":["3.2","3.4","3.6"],"range":["#0a14d2","#9dc23a","#e8141e"]},"legend":null},
  "x":{"field":"from","type":"quantitative","scale":{"domain":[0,150],"range":[912.3,1270],"nice":false,"zero":false},
   "axis":{"orient":"bottom","offset":-5,"values":[0,5,10,15,20,25,30,35,40,45,50,55,60,65,70,75,80,85,90,95,100,105,110,115,120,125,130,135,140,145,150],"labels":false,"domain":false,"ticks":true,"tickSize":5,"tickWidth":2,"tickColor":"black","title":null}},
  "x2":{"field":"to"},
  "y":{"field":"depth","type":"quantitative","scale":{"domain":[280,302],"range":[29,441.7],"nice":false,"zero":false},
   "axis":{"orient":"left","offset":-917.3,"values":[280,281,282,283,284,285,286,287,288,289,290,291,292,293,294,295,296,297,298,299,300,301,302],"labels":false,"domain":false,"ticks":true,"tickSize":5,"tickWidth":2,"tickColor":"black","title":null}}}},
{"data":{"values":[{"area":78.4,"depth":300.76},{"area":92.6,"depth":300.17}]},
 "mark":{"type":"line","color":"#e8141e","strokeWidth":2.6},
 "encoding":{
  "x":{"field":"area","type":"quantitative","scale":{"domain":[0,150],"range":[912.3,1270],"nice":false,"zero":false},"axis":null},
  "y":{"field":"depth","type":"quantitative","scale":{"domain":[280,302],"range":[29,441.7],"nice":false,"zero":false},"axis":null}}},
{"data":{"values":[{"area":93.6,"depth":300.13}]},
 "mark":{"type":"point","shape":"triangle-right","filled":true,"color":"#e8141e","size":70,"angle":-18,"opacity":1},
 "encoding":{
  "x":{"field":"area","type":"quantitative","scale":{"domain":[0,150],"range":[912.3,1270],"nice":false,"zero":false},"axis":null},
  "y":{"field":"depth","type":"quantitative","scale":{"domain":[280,302],"range":[29,441.7],"nice":false,"zero":false},"axis":null}}},
{"data":{"values":[{"label":"V","area":63.3,"depth":282.63},{"label":"V","area":63.3,"depth":284.14},{"label":"V","area":63.3,"depth":285.65}]},
 "mark":{"type":"text","align":"left","baseline":"alphabetic","fontSize":22,"color":"black"},
 "encoding":{"text":{"field":"label"},
  "x":{"field":"area","type":"quantitative","scale":{"domain":[0,150],"range":[912.3,1270],"nice":false,"zero":false},"axis":null},
  "y":{"field":"depth","type":"quantitative","scale":{"domain":[280,302],"range":[29,441.7],"nice":false,"zero":false},"axis":null}}},
{"data":{"values":[{"label":"BED 0","area":63.3,"depth":282.63},{"label":"BED 0","area":63.3,"depth":284.14},{"label":"BED 0","area":63.3,"depth":285.65}]},
 "mark":{"type":"text","align":"left","baseline":"alphabetic","fontSize":15,"dx":16,"dy":7,"color":"black"},
 "encoding":{"text":{"field":"label"},
  "x":{"field":"area","type":"quantitative","scale":{"domain":[0,150],"range":[912.3,1270],"nice":false,"zero":false},"axis":null},
  "y":{"field":"depth","type":"quantitative","scale":{"domain":[280,302],"range":[29,441.7],"nice":false,"zero":false},"axis":null}}},
{"data":{"values":[{"label":"= 3.2 m s","area":63.3,"depth":282.63},{"label":"= 3.4 m s","area":63.3,"depth":284.14},{"label":"= 3.6 m s","area":63.3,"depth":285.65}]},
 "mark":{"type":"text","align":"left","baseline":"alphabetic","fontSize":21.5,"dx":66,"color":"black"},
 "encoding":{"text":{"field":"label"},
  "x":{"field":"area","type":"quantitative","scale":{"domain":[0,150],"range":[912.3,1270],"nice":false,"zero":false},"axis":null},
  "y":{"field":"depth","type":"quantitative","scale":{"domain":[280,302],"range":[29,441.7],"nice":false,"zero":false},"axis":null}}},
{"data":{"values":[{"label":"-1","area":63.3,"depth":282.63},{"label":"-1","area":63.3,"depth":284.14},{"label":"-1","area":63.3,"depth":285.65}]},
 "mark":{"type":"text","align":"left","baseline":"alphabetic","fontSize":14,"dx":157,"dy":-10,"color":"black"},
 "encoding":{"text":{"field":"label"},
  "x":{"field":"area","type":"quantitative","scale":{"domain":[0,150],"range":[912.3,1270],"nice":false,"zero":false},"axis":null},
  "y":{"field":"depth","type":"quantitative","scale":{"domain":[280,302],"range":[29,441.7],"nice":false,"zero":false},"axis":null}}},
{"data":{"values":[{"label":"c","area":13.0,"depth":299.14}]},
 "mark":{"type":"text","align":"left","baseline":"alphabetic","fontSize":36,"fontWeight":"bold","color":"black"},
 "encoding":{"text":{"field":"label"},
  "x":{"field":"area","type":"quantitative","scale":{"domain":[0,150],"range":[912.3,1270],"nice":false,"zero":false},"axis":null},
  "y":{"field":"depth","type":"quantitative","scale":{"domain":[280,302],"range":[29,441.7],"nice":false,"zero":false},"axis":null}}}
]
}
